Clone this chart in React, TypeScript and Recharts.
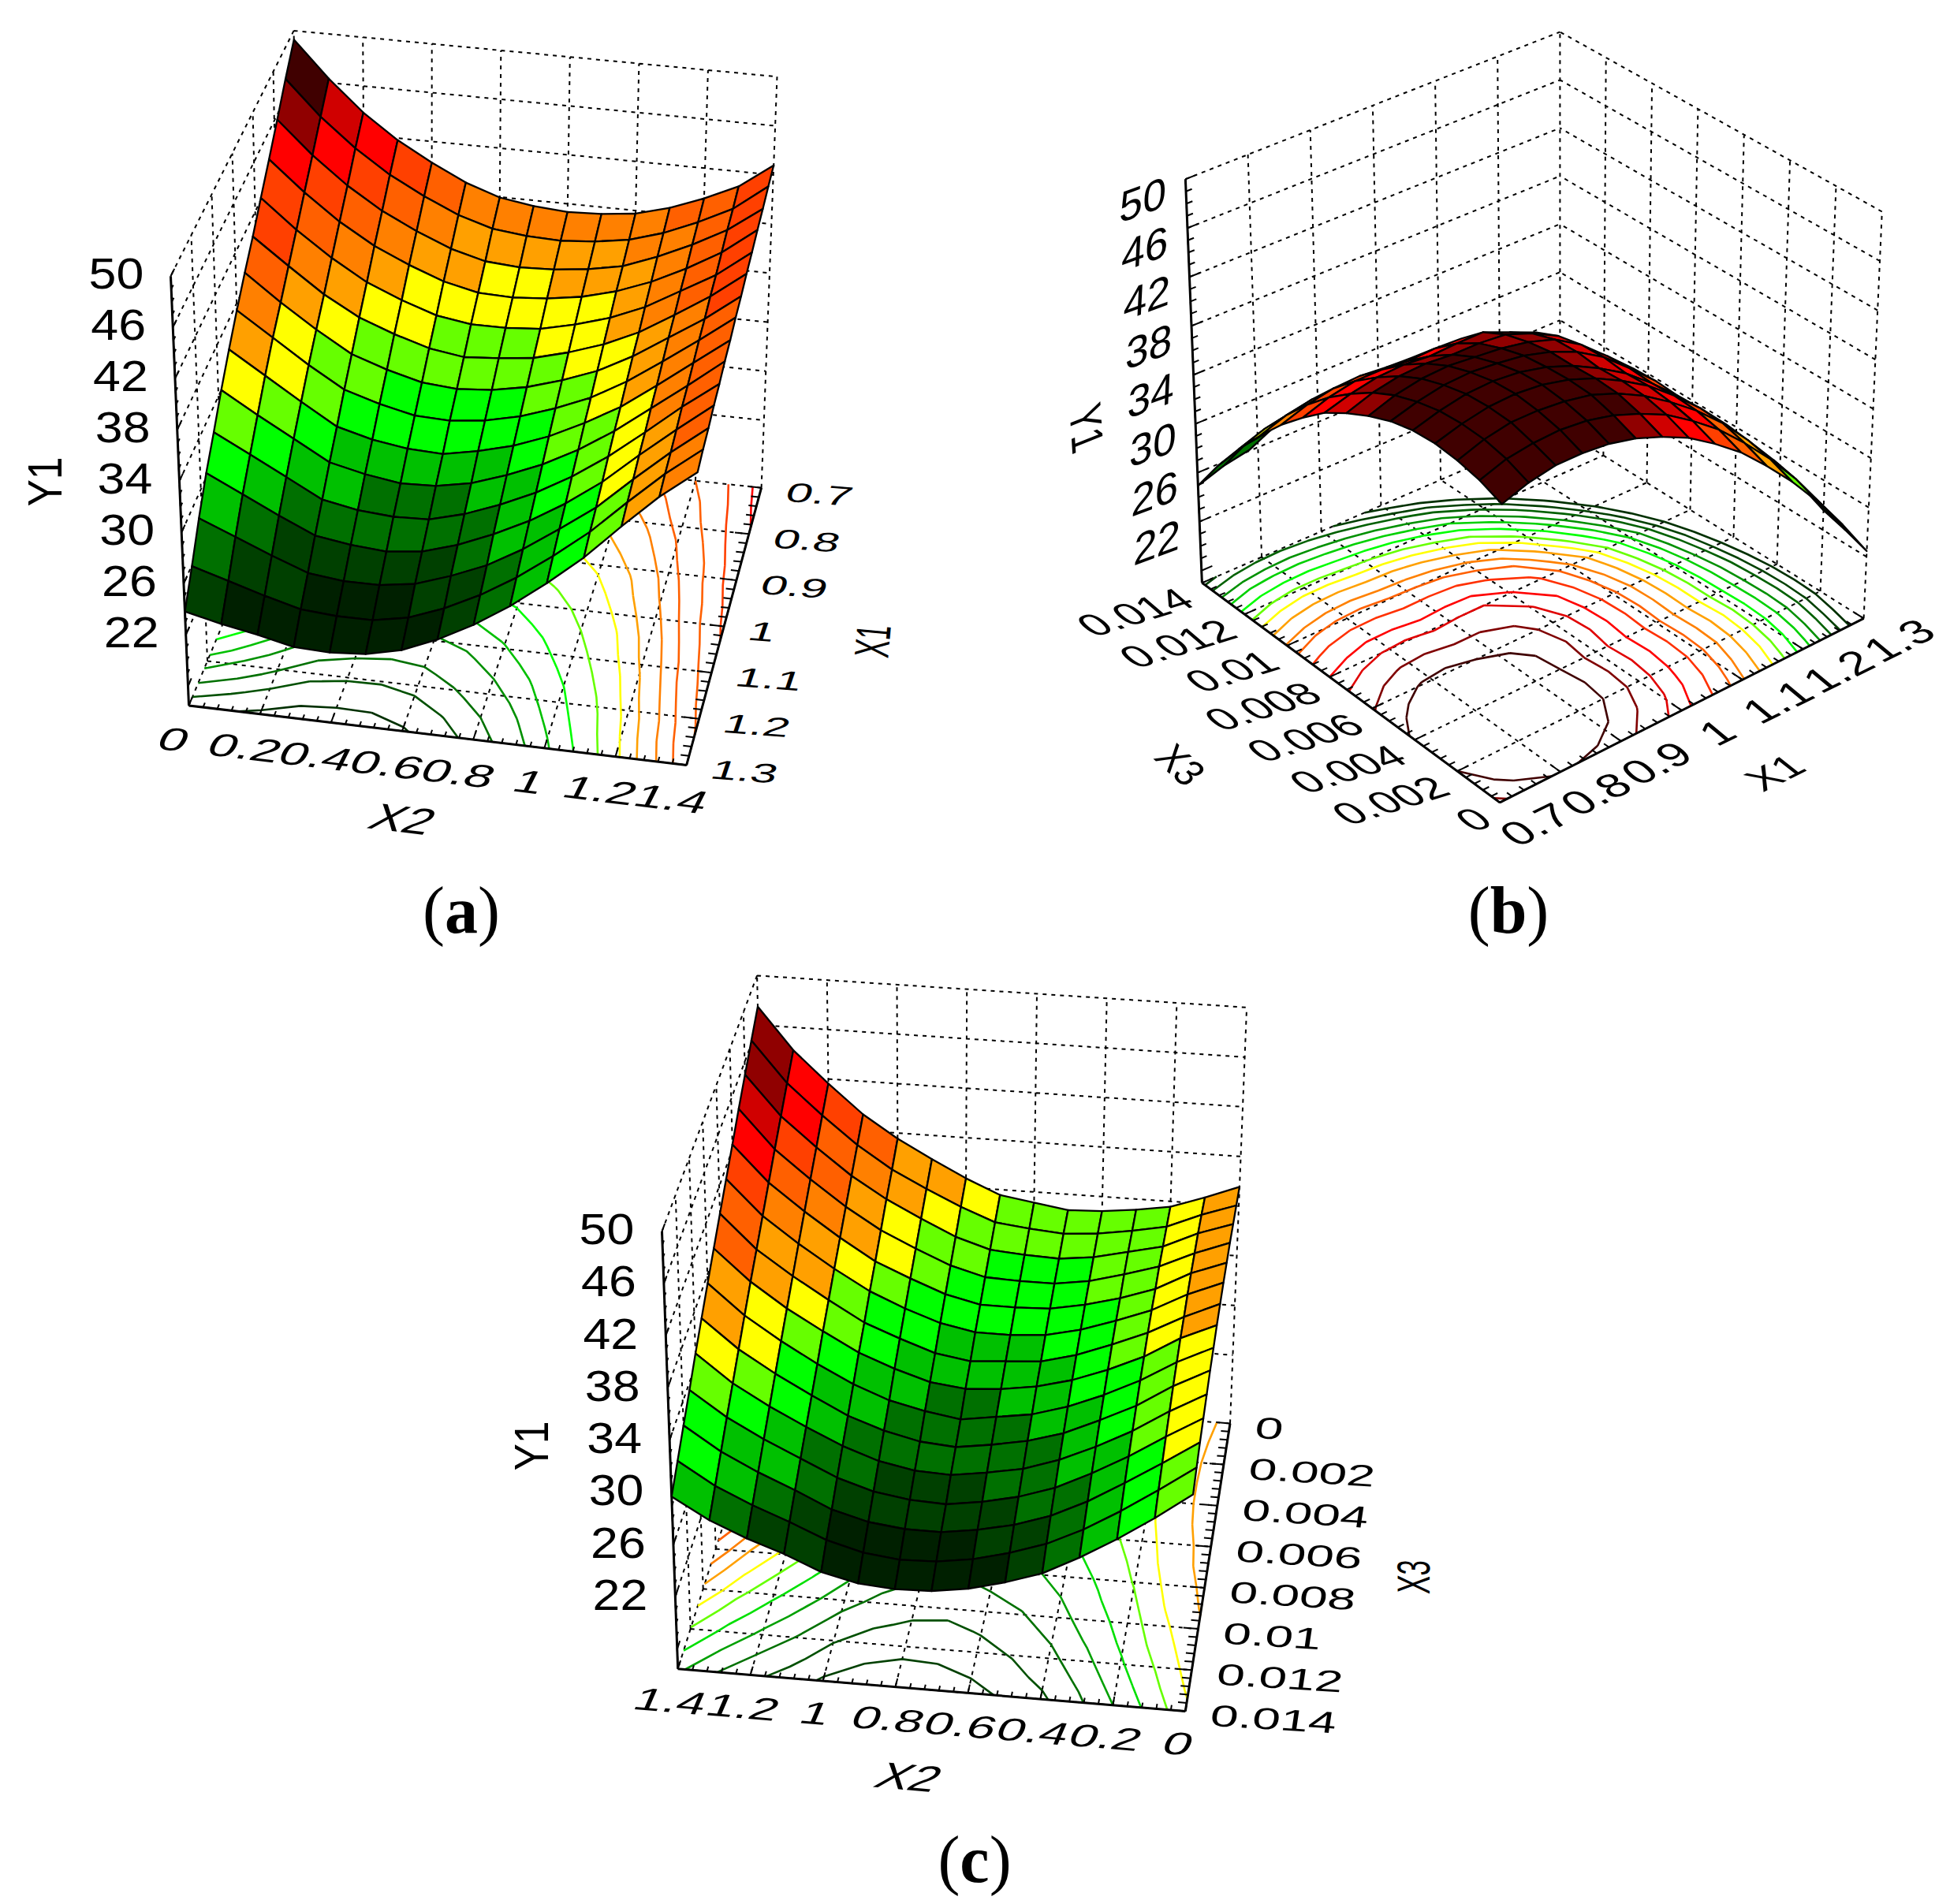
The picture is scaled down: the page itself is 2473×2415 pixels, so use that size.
import React from 'react';
import { ScatterChart, Scatter, XAxis, YAxis } from 'recharts';

// ---- axis tick values ----
const y1Ticks = [22, 26, 30, 34, 38, 42, 46, 50];
const x2Ticks = [0, 0.2, 0.4, 0.6, 0.8, 1, 1.2, 1.4];
const x2TicksReversed = [1.4, 1.2, 1, 0.8, 0.6, 0.4, 0.2, 0];
const x1Ticks = [0.7, 0.8, 0.9, 1, 1.1, 1.2, 1.3];
const x3TicksDown = [0, 0.002, 0.004, 0.006, 0.008, 0.01, 0.012, 0.014];

// ---- surface values (outer: first axis, inner: second axis) ----
// (a) outer X2 0..1.4, inner X1 0.7..1.3
const surfaceA = [
  [49.3,47.6,45.8,44.1,42.5,40.9,39.5,38.0,36.4,34.7,32.9,31.2,29.2,27.0,25.0],
  [46.5,44.9,43.3,41.8,40.3,38.9,37.5,36.2,34.7,33.1,31.5,29.9,28.1,26.2,24.4],
  [44.1,42.7,41.2,39.8,38.4,37.0,35.7,34.4,33.0,31.6,30.1,28.6,27.0,25.4,23.9],
  [42.2,40.9,39.5,38.2,36.8,35.5,34.1,32.8,31.4,30.1,28.7,27.4,26.0,24.7,23.3],
  [40.7,39.5,38.2,37.0,35.7,34.5,33.2,32.0,30.7,29.5,28.2,27.0,25.7,24.5,23.2],
  [39.4,38.3,37.1,36.0,34.8,33.7,32.5,31.4,30.3,29.1,28.0,26.8,25.7,24.5,23.4],
  [38.5,37.5,36.4,35.4,34.4,33.3,32.3,31.3,30.2,29.2,28.1,27.1,26.1,25.0,24.0],
  [38.1,37.2,36.2,35.3,34.4,33.5,32.5,31.6,30.7,29.7,28.8,27.9,27.0,26.0,25.1],
  [37.9,37.1,36.3,35.5,34.6,33.8,33.0,32.2,31.4,30.6,29.8,29.0,28.1,27.3,26.5],
  [38.0,37.3,36.6,35.9,35.2,34.5,33.8,33.1,32.4,31.7,31.0,30.3,29.6,28.9,28.2],
  [38.3,37.7,37.1,36.6,36.0,35.4,34.8,34.2,33.7,33.1,32.5,31.9,31.4,30.8,30.2],
  [39.0,38.5,38.1,37.6,37.1,36.6,36.2,35.7,35.2,34.8,34.3,33.8,33.3,32.9,32.4],
  [40.0,39.6,39.3,38.9,38.6,38.2,37.9,37.5,37.1,36.8,36.4,36.1,35.7,35.4,35.0],
  [41.2,40.9,40.7,40.4,40.1,39.9,39.6,39.4,39.1,38.8,38.6,38.3,38.0,37.8,37.5],
  [43.1,42.9,42.6,42.4,42.1,41.9,41.6,41.4,41.1,40.9,40.6,40.4,40.1,39.9,39.6],
];
// (b) outer X1 0.7..1.3, inner X3 0..0.014
const surfaceB = [
  [40.3,41.0,41.4,41.6,41.5,41.1,40.4,39.5,38.4,36.9,35.2,33.2,31.0,28.5,25.7],
  [41.0,41.7,42.1,42.2,42.1,41.7,41.1,40.2,39.0,37.6,35.9,33.9,31.7,29.2,26.4],
  [41.4,42.0,42.5,42.6,42.5,42.1,41.5,40.6,39.4,38.0,36.3,34.3,32.1,29.5,26.8],
  [41.4,42.1,42.5,42.7,42.6,42.2,41.6,40.7,39.5,38.0,36.4,34.4,32.1,29.6,26.9],
  [41.2,41.9,42.3,42.5,42.4,42.0,41.4,40.5,39.3,37.8,36.2,34.2,31.9,29.4,26.7],
  [40.7,41.4,41.9,42.0,41.9,41.7,41.2,40.5,39.4,37.9,36.1,34.1,31.7,29.1,26.2],
  [39.9,40.6,41.1,41.2,41.1,41.1,40.8,40.3,39.4,37.8,35.9,33.7,31.3,28.5,25.4],
  [38.9,39.6,40.0,40.1,40.0,40.2,40.1,39.5,38.5,37.1,35.3,33.0,30.5,27.6,24.3],
  [37.5,38.2,38.6,38.8,38.7,38.9,38.8,38.4,37.6,36.2,34.3,32.0,29.4,26.4,23.0],
  [35.9,36.6,37.0,37.1,37.0,37.1,37.0,36.6,35.9,34.4,32.5,30.2,27.6,24.6,21.3],
  [33.9,34.6,35.1,35.2,35.1,35.2,35.1,34.7,33.9,32.2,30.3,28.0,25.5,22.6,19.4],
  [31.7,32.4,32.8,33.0,32.8,32.8,32.6,32.1,31.3,29.7,27.7,25.5,23.1,20.3,17.1],
  [29.2,29.9,30.3,30.4,30.3,30.2,29.9,29.3,28.4,26.8,24.9,22.8,20.4,17.7,14.6],
  [26.4,27.0,27.5,27.6,27.5,27.3,26.8,26.1,25.0,23.5,21.7,19.7,17.3,14.7,11.8],
  [23.3,23.9,24.4,24.5,24.4,24.0,23.4,22.5,21.3,19.9,18.2,16.2,14.0,11.5,8.7],
];
// (c) outer X2 1.4..0, inner X3 0..0.014
const surfaceC = [
  [47.6,46.4,45.2,44.0,42.7,41.5,40.3,39.1,37.9,36.7,35.5,34.2,33.0,31.8,30.6],
  [44.4,43.3,42.2,41.1,40.0,38.9,37.8,36.8,35.7,34.6,33.5,32.4,31.3,30.2,29.1],
  [42.0,41.0,40.0,39.0,38.0,37.0,36.0,35.0,34.0,33.0,32.0,31.0,30.0,29.0,28.0],
  [39.8,38.9,38.0,37.1,36.2,35.3,34.4,33.5,32.5,31.6,30.7,29.8,28.9,28.0,27.1],
  [38.1,37.2,36.4,35.5,34.6,33.8,32.9,32.1,31.2,30.3,29.5,28.6,27.7,26.9,26.0],
  [36.7,35.9,35.1,34.3,33.5,32.7,31.9,31.1,30.2,29.4,28.6,27.8,27.0,26.2,25.4],
  [35.4,34.7,33.9,33.2,32.5,31.8,31.0,30.3,29.6,28.8,28.1,27.4,26.7,25.9,25.2],
  [34.3,33.7,33.1,32.5,31.9,31.3,30.6,30.0,29.2,28.6,28.0,27.3,26.7,26.0,25.3],
  [33.9,33.4,32.9,32.4,31.9,31.3,30.8,30.2,29.6,29.0,28.4,27.7,27.1,26.4,25.7],
  [33.5,33.2,32.8,32.4,32.0,31.5,31.0,30.6,30.0,29.5,28.9,28.3,27.7,27.1,26.4],
  [33.6,33.4,33.1,32.8,32.5,32.1,31.7,31.3,30.8,30.3,29.8,29.2,28.6,28.0,27.3],
  [33.9,33.8,33.7,33.5,33.2,33.0,32.7,32.3,31.9,31.5,31.0,30.5,29.9,29.3,28.7],
  [34.3,34.3,34.3,34.3,34.1,34.0,33.8,33.5,33.2,32.8,32.4,32.0,31.5,30.9,30.3],
  [35.2,35.4,35.5,35.5,35.5,35.4,35.2,35.1,34.8,34.5,34.1,33.7,33.2,32.7,32.1],
  [36.2,36.3,36.4,36.5,36.5,36.5,36.4,36.3,36.1,35.9,35.6,35.3,35.0,34.6,34.1],
];

const bandColors = ['#400000','#900000','#d00000','#ff0000','#ff4000','#ff6000','#ff8000','#ffa000','#ffff00','#66ff00','#00ff00','#00c000','#007000','#004000','#002000'];
const bandsA = [46.5,45,44.2,42.4,40.6,39,37.5,36,34.4,32.6,30.8,29,27.5,25.6];
const bandsB = [40.8,39.8,38.8,37.4,36.1,35.1,33.9,32.8,31.8,30.6,29.4,28.3,27.1,26.1];
const bandsC = [46,44,43,41.6,40.4,38.5,37.5,35.6,34.2,33,31.5,29.8,28.2,27];

const contourLevelsA = [24.2,25.9,27.4,29.1,30.5,32,33.7,35.3,36.5,37.8,38.8,40,41.2,42.6];
const contourColorsA = ['#003000','#005000','#007000','#009000','#00c000','#00ff00','#66ff00','#ffff00','#ffa000','#ff8000','#ff6000','#ff6000','#ff4000','#ff0000'];
const contourLevelsB = [41.4,40.5,39.4,38.4,37.2,36.1,35.1,33.9,32.8,31.8,30.6,29.4,28.3,27.1,26.1,25];
const contourColorsB = ['#400000','#800000','#e00000','#ff0000','#ff3000','#ff6000','#ff8000','#ffa000','#ffff00','#66ff00','#00ff00','#00d000','#009000','#006000','#004000','#003000'];
const contourLevelsC = [26.2,27.6,29,30.3,31.7,33.1,34.4,35.8,37,38.4,39.8,41.2];
const contourColorsC = ['#004000','#005000','#007000','#00a000','#00e000','#66ff00','#ffff00','#ffa000','#ff8000','#ff6000','#ff4000','#ff0000'];

const W = 2473;
const H = 2415;
const TEXT = '"Liberation Sans", Arial, sans-serif';

type P2 = [number, number];
const lerp = (p: P2, q: P2, t: number): P2 => [p[0] + (q[0] - p[0]) * t, p[1] + (q[1] - p[1]) * t];

// Box frame of each panel: floor and top corners at (a,b) = 00, 10, 01, 11
const frameA = { floor: [[380.3,556.4],[965.6,618.7],[239.5,894.9],[870.7,970.4]], top: [[372.6,38.9],[985.5,97.3],[216.5,350.2],[891.4,420.2]], zFloor: 16.5 };
const frameB = { floor: [[1902.1,1017.9],[2363.6,784.4],[1524.4,739.3],[1978.4,543.2]], top: [[1905.8,474.7],[2386.8,268.5],[1503.4,227.2],[1978.4,40.5]], zFloor: 17 };
const frameC = { floor: [[971.7,1761.9],[1560,1805.4],[859.7,2116.7],[1503.3,2170.4]], top: [[960.1,1237.4],[1581.1,1277.8],[839.5,1561.9],[1522.7,1624.1]], zFloor: 16.5 };

function project(f: any, a: number, b: number, c: number): P2 {
  const bil = (q: any): P2 => lerp(lerp(q[0], q[1], a), lerp(q[2], q[3], a), b);
  return lerp(bil(f.floor), bil(f.top), c);
}
const frac = (ticks: number[], v: number) => (v - ticks[0]) / (ticks[ticks.length - 1] - ticks[0]);
const cSurface = (z: number) => (z - 18) / 32;
const cTick = (f: any, z: number) => (z - f.zFloor) / (50 - f.zFloor);

type Mark = { x: number; y: number; segs: P2[][]; closed?: boolean; fill?: string; stroke: string; w: number; dash?: string };
const mark = (segs: P2[][], stroke: string, w: number, extra: any = {}): Mark => ({ x: segs[0][0][0], y: segs[0][0][1], segs, stroke, w, ...extra });

function gridMarks(f: any, aTicks: number[], bTicks: number[], bWall: number, aWall: number): Mark[] {
  const segs: P2[][] = [];
  const L = (a0: number, b0: number, c0: number, a1: number, b1: number, c1: number) => segs.push([project(f, a0, b0, c0), project(f, a1, b1, c1)]);
  aTicks.forEach((v) => { const a = frac(aTicks, v); L(a, 0, 0, a, 1, 0); L(a, bWall, 0, a, bWall, 1); });
  bTicks.forEach((v) => { const b = frac(bTicks, v); L(0, b, 0, 1, b, 0); L(aWall, b, 0, aWall, b, 1); });
  y1Ticks.forEach((z) => { const c = cTick(f, z); L(0, bWall, c, 1, bWall, c); L(aWall, 0, c, aWall, 1, c); });
  return [mark(segs, '#000', 2, { dash: '5 6' })];
}

function contourMarks(f: any, table: number[][], levels: number[], colors: string[]): Mark[] {
  const n = table.length - 1;
  const out: Mark[] = [];
  levels.forEach((level, li) => {
    const segs: P2[][] = [];
    for (let i = 0; i < n; i++) for (let j = 0; j < n; j++) {
      const v = [table[i][j], table[i + 1][j], table[i + 1][j + 1], table[i][j + 1]];
      const c = [[i, j], [i + 1, j], [i + 1, j + 1], [i, j + 1]];
      const hits: P2[] = [];
      for (let e = 0; e < 4; e++) {
        const p = v[e], q = v[(e + 1) % 4];
        if ((p < level) !== (q < level)) {
          const t = (level - p) / (q - p);
          const u = c[e][0] + (c[(e + 1) % 4][0] - c[e][0]) * t;
          const w = c[e][1] + (c[(e + 1) % 4][1] - c[e][1]) * t;
          hits.push(project(f, u / n, w / n, 0));
        }
      }
      if (hits.length >= 2) segs.push([hits[0], hits[1]]);
      if (hits.length === 4) segs.push([hits[2], hits[3]]);
    }
    if (segs.length) out.push(mark(segs, colors[li], 2.6));
  });
  return out;
}

const signedArea = (p: P2[]) => p.reduce((s, q, i) => { const r = p[(i + 1) % p.length]; return s + q[0] * r[1] - r[0] * q[1]; }, 0);

function cellMarks(f: any, table: number[][], bands: number[], backToFront: [number, number][]): Mark[] {
  return backToFront.flatMap(([i, j]) => {
    const v = [table[i][j], table[i + 1][j], table[i + 1][j + 1], table[i][j + 1]];
    if (Math.min(...v) < 20) return [];
    const n = table.length - 1;
    const mean = (v[0] + v[1] + v[2] + v[3]) / 4;
    const idx = bands.findIndex((t) => mean >= t);
    const fill = bandColors[idx < 0 ? bandColors.length - 1 : idx];
    const nodes = [[i, j], [i + 1, j], [i + 1, j + 1], [i, j + 1]];
    const pts: P2[] = nodes.map(([p, q], k) => project(f, p / n, q / n, cSurface(v[k])));
    const base: P2[] = nodes.map(([p, q]) => project(f, p / n, q / n, 0));
    // cells turned away from the viewer stay hidden, apart from the two outer rows at the front edges
    const onFrontEdge = i <= 1 || j <= 1;
    if (!onFrontEdge && signedArea(pts) * signedArea(base) <= 0) return [];
    return [mark([pts], '#000', 2.3, { closed: true, fill })];
  });
}

function axisMarks(f: any, edges: [number, number, number, number][], verticalAt: [number, number], zDir: [number, number], aTicks: number[], bTicks: number[]): Mark[] {
  const segs: P2[][] = [];
  const ticks: P2[][] = [];
  edges.forEach(([a0, b0, a1, b1]) => {
    segs.push([project(f, a0, b0, 0), project(f, a1, b1, 0)]);
    const alongA = a0 !== a1;
    const list = alongA ? aTicks : bTicks;
    const inward = alongA ? (b0 === 1 ? -1 : 1) : (a0 === 1 ? -1 : 1);
    const nSub = (list.length - 1) * 5;
    for (let k = 0; k <= nSub; k++) {
      const t = k / nSub;
      const len = (k % 5 === 0 ? 0.03 : 0.017) * inward;
      if (alongA) ticks.push([project(f, t, b0, 0), project(f, t, b0 + len, 0)]);
      else ticks.push([project(f, a0, t, 0), project(f, a0 + len, t, 0)]);
    }
  });
  const [va, vb] = verticalAt;
  segs.push([project(f, va, vb, 0), project(f, va, vb, 1)]);
  for (let z = 18; z <= 50; z++) {
    const c = cTick(f, z);
    const len = (z - 22) % 4 === 0 ? 0.03 : 0.016;
    ticks.push([project(f, va, vb, c), project(f, va + zDir[0] * len, vb + zDir[1] * len, c)]);
  }
  return [mark(segs, '#000', 3), mark(ticks, '#000', 2)];
}

type Lab = { x: number; y: number; text?: string; m: number[]; anchor: string; size?: number; caption?: string };
function axisLabels(ticks: number[], at: (v: number) => P2, off: P2, m: number[], anchor: string): Lab[] {
  return ticks.map((v) => { const p = at(v); return { x: p[0] + off[0], y: p[1] + off[1], text: String(v), m, anchor }; });
}

const pairs = (outerDesc: boolean, innerDesc: boolean, innerFirstIsB: boolean) => {
  const out: [number, number][] = [];
  const seq = (d: boolean) => { const s = Array.from({ length: 14 }, (_, k) => k); return d ? s.reverse() : s; };
  seq(outerDesc).forEach((o) => seq(innerDesc).forEach((p) => out.push(innerFirstIsB ? [p, o] : [o, p])));
  return out;
};

// ---- assemble series ----
const gridData = [
  ...gridMarks(frameA, x2Ticks, x1Ticks, 0, 0),
  ...gridMarks(frameB, x1Ticks, x3TicksDown, 1, 1),
  ...gridMarks(frameC, x2TicksReversed, x3TicksDown, 0, 0),
];
const contourData = [
  ...contourMarks(frameA, surfaceA, contourLevelsA, contourColorsA),
  ...contourMarks(frameB, surfaceB, contourLevelsB, contourColorsB),
  ...contourMarks(frameC, surfaceC, contourLevelsC, contourColorsC),
];
const axisData = [
  ...axisMarks(frameA, [[0, 1, 1, 1], [1, 0, 1, 1]], [0, 1], [0, -1], x2Ticks, x1Ticks),
  ...axisMarks(frameB, [[0, 0, 1, 0], [0, 0, 0, 1]], [0, 1], [1, 0], x1Ticks, x3TicksDown),
  ...axisMarks(frameC, [[0, 1, 1, 1], [1, 0, 1, 1]], [0, 1], [0, -1], x2TicksReversed, x3TicksDown),
];
const cellsA = cellMarks(frameA, surfaceA, bandsA, pairs(false, false, true));
const cellsB = cellMarks(frameB, surfaceB, bandsB, pairs(true, true, false));
const cellsC = cellMarks(frameC, surfaceC, bandsC, pairs(false, false, true));

const labelData: Lab[] = [
  // (a)
  ...axisLabels(y1Ticks, (z) => project(frameA, 0, 1, cTick(frameA, z)), [-69, -4], [1.12, 0, 0, 1], 'middle'),
  ...axisLabels(x2Ticks, (v) => project(frameA, frac(x2Ticks, v), 1, 0), [-19, 43], [1.15, 0.14, -0.35, 0.7], 'middle'),
  ...axisLabels(x1Ticks, (v) => project(frameA, 1, frac(x1Ticks, v), 0), [32, 5], [1.07, 0.08, -0.2, 0.6], 'start'),
  { x: 57, y: 611, text: 'Y1', m: [0, -0.92, 1.1, 0], anchor: 'middle' },
  { x: 511, y: 1039, text: 'X2', m: [1.1, 0.13, -0.5, 0.8], anchor: 'middle' },
  { x: 1107, y: 813, text: 'X1', m: [0.05, -0.6, 1.1, 0.1], anchor: 'middle' },
  { x: 585, y: 1154, caption: 'a', m: [1, 0, 0, 1], anchor: 'middle', size: 84 },
  // (b)
  ...axisLabels(y1Ticks, (z) => project(frameB, 0, 1, cTick(frameB, z)), [-54, 26], [0.95, -0.35, -0.05, 1.0], 'middle'),
  ...axisLabels(x3TicksDown, (v) => project(frameB, 0, frac(x3TicksDown, v), 0), [-19, 17], [0.94, -0.29, 0.7, 0.6], 'end'),
  ...axisLabels(x1Ticks, (v) => project(frameB, frac(x1Ticks, v), 0, 0), [45, 28], [0.93, -0.46, 0.72, 0.6], 'middle'),
  { x: 1378, y: 543, text: 'Y1', m: [0.05, 0.8, -1.0, 0.4], anchor: 'middle' },
  { x: 1497, y: 970, text: 'X3', m: [0.6, 0.55, -0.75, 0.55], anchor: 'middle' },
  { x: 2251, y: 980, text: 'X1', m: [0.85, -0.42, 0.7, 0.55], anchor: 'middle' },
  { x: 1913, y: 1154, caption: 'b', m: [1, 0, 0, 1], anchor: 'middle', size: 84 },
  // (c)
  ...axisLabels(y1Ticks, (z) => project(frameC, 0, 1, cTick(frameC, z)), [-70, -3], [1.12, 0, 0, 1], 'middle'),
  ...axisLabels(x2TicksReversed, (v) => project(frameC, frac(x2TicksReversed, v), 1, 0), [-9, 41], [1.15, 0.1, -0.3, 0.7], 'middle'),
  ...axisLabels(x3TicksDown, (v) => project(frameC, 1, frac(x3TicksDown, v), 0), [32, 5], [1.14, 0.07, -0.1, 0.68], 'start'),
  { x: 674, y: 1834, text: 'Y1', m: [0, -0.92, 1.1, 0], anchor: 'middle' },
  { x: 1153, y: 2254, text: 'X2', m: [1.1, 0.1, -0.5, 0.8], anchor: 'middle' },
  { x: 1792, y: 2000, text: 'X3', m: [0, -0.62, 1.05, 0.05], anchor: 'middle' },
  { x: 1236, y: 2358, caption: 'c', m: [1, 0, 0, 1], anchor: 'middle', size: 84 },
];

// The axes span the chart 1:1 with no margin, so offsets between a mark's
// vertices are the same in data units and in drawn units; cx, cy come from the axes' scales.
const MarkShape = (props: any) => {
  const { cx, cy, payload: d } = props;
  const path = d.segs
    .map((s: P2[]) => s.map((q, i) => `${i ? 'L' : 'M'}${(q[0] - d.x + cx).toFixed(1)} ${(q[1] - d.y + cy).toFixed(1)}`).join('') + (d.closed ? 'Z' : ''))
    .join('');
  return <path d={path} fill={d.fill ?? 'none'} stroke={d.stroke} strokeWidth={d.w} strokeDasharray={d.dash} strokeLinejoin="round" />;
};

const LabelShape = (props: any) => {
  const { cx, cy, payload: d } = props;
  const [a, b, c, e] = d.m;
  const transform = `matrix(${a} ${b} ${c} ${e} ${cx} ${cy})`;
  if (d.caption) {
    return (
      <text transform={transform} textAnchor="middle" dominantBaseline="central" fontFamily='"Liberation Serif", serif' fontSize={d.size} fill="#000">
        (<tspan fontWeight="bold">{d.caption}</tspan>)
      </text>
    );
  }
  return (
    <text transform={transform} textAnchor={d.anchor} dominantBaseline="central" fontFamily={TEXT} fontSize={56} fill="#000">
      {d.text}
    </text>
  );
};

export default function App() {
  return (
    <div style={{ position: 'absolute', left: 0, top: 0, width: W, height: H, background: '#fff' }}>
      <ScatterChart width={W} height={H} margin={{ top: 0, right: 0, bottom: 0, left: 0 }}>
        <XAxis type="number" dataKey="x" domain={[0, W]} hide allowDataOverflow />
        <YAxis type="number" dataKey="y" domain={[0, H]} reversed hide allowDataOverflow />
        <Scatter name="grid" data={gridData} shape={MarkShape} isAnimationActive={false} />
        <Scatter name="contours" data={contourData} shape={MarkShape} isAnimationActive={false} />
        <Scatter name="axes" data={axisData} shape={MarkShape} isAnimationActive={false} />
        <Scatter name="surface a" data={cellsA} shape={MarkShape} isAnimationActive={false} />
        <Scatter name="surface b" data={cellsB} shape={MarkShape} isAnimationActive={false} />
        <Scatter name="surface c" data={cellsC} shape={MarkShape} isAnimationActive={false} />
        <Scatter name="labels" data={labelData} shape={LabelShape} isAnimationActive={false} />
      </ScatterChart>
    </div>
  );
}
